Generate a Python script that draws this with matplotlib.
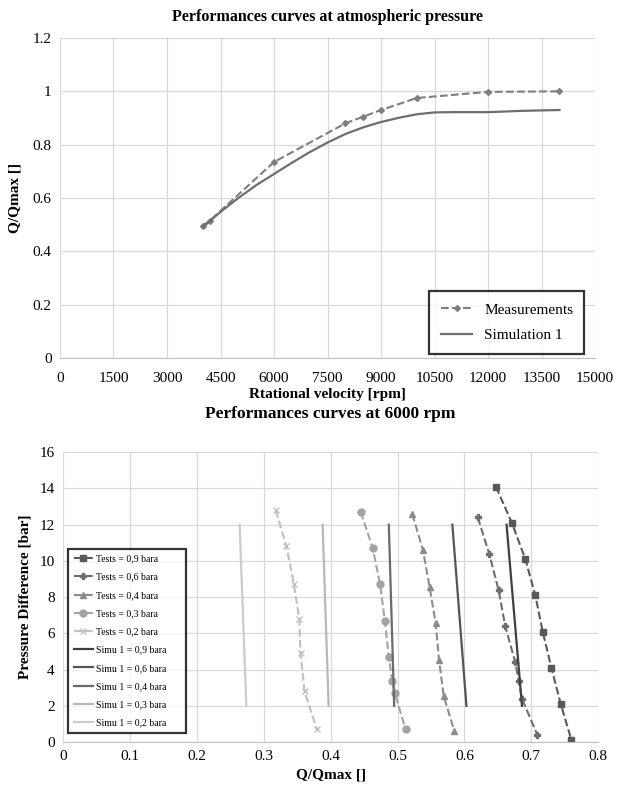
import numpy as np
import matplotlib.pyplot as plt

plt.rcParams["font.family"] = ["Liberation Serif", "DejaVu Serif"]

# ---------------------------
# DATA - top chart
# ---------------------------
rpm_meas = [4000, 4200, 6000, 8000, 8500, 9000, 10000, 12000, 14000]
q_meas = [0.495, 0.515, 0.735, 0.88, 0.905, 0.93, 0.975, 0.998, 1.0]

rpm_sim = [4000, 4500, 5000, 5500, 6000, 6500, 7000, 7500, 8000, 8500, 9000,
           9500, 10000, 10500, 11000, 12000, 13000, 14000]
q_sim = [0.49, 0.548, 0.600, 0.648, 0.690, 0.732, 0.772, 0.808, 0.840, 0.865,
         0.885, 0.901, 0.914, 0.921, 0.922, 0.922, 0.927, 0.93]

# ---------------------------
# DATA - bottom chart
# ---------------------------
t09_q = [0.647, 0.671, 0.691, 0.706, 0.717, 0.730, 0.744, 0.760]
t09_dp = [14.1, 12.1, 10.1, 8.1, 6.1, 4.1, 2.1, 0.1]
t06_q = [0.620, 0.637, 0.651, 0.661, 0.676, 0.681, 0.686, 0.709]
t06_dp = [12.4, 10.4, 8.4, 6.4, 4.4, 3.4, 2.4, 0.4]
t04_q = [0.522, 0.538, 0.548, 0.557, 0.562, 0.569, 0.585]
t04_dp = [12.6, 10.6, 8.55, 6.55, 4.55, 2.55, 0.6]
t03_q = [0.445, 0.463, 0.474, 0.481, 0.487, 0.492, 0.496, 0.512]
t03_dp = [12.7, 10.7, 8.7, 6.7, 4.7, 3.4, 2.7, 0.7]
t02_q = [0.318, 0.334, 0.345, 0.353, 0.355, 0.361, 0.379]
t02_dp = [12.8, 10.8, 8.75, 6.8, 4.9, 2.8, 0.75]

simu_dp = [12, 2]
s09_q = [0.663, 0.686]
s06_q = [0.582, 0.603]
s04_q = [0.487, 0.495]
s03_q = [0.388, 0.397]
s02_q = [0.264, 0.274]

GRID = "#d9d9d9"


def style_axes(ax, xpad=6):
    ax.grid(True, color=GRID, linewidth=0.9)
    ax.set_axisbelow(True)
    for s in ["top", "right", "left"]:
        ax.spines[s].set_visible(False)
    ax.spines["bottom"].set_color("#bfbfbf")
    ax.tick_params(length=0, labelsize=11, pad=6)
    ax.tick_params(axis="x", pad=xpad)


fig = plt.figure(figsize=(6.18, 7.92), dpi=100)

# ================================================================
# TOP: performances at atmospheric pressure
# ================================================================
ax1 = fig.add_axes([0.097, 0.548, 0.866, 0.404])
ax1.plot(rpm_meas, q_meas, color="#7f7f7f", linestyle="--", linewidth=1.5,
         marker="D", markersize=3, label="Measurements")
ax1.plot(rpm_sim, q_sim, color="#6e6e6e", linestyle="-", linewidth=1.6,
         label="Simulation 1")
ax1.set_xlim(0, 15000)
ax1.set_ylim(0, 1.2)
ax1.set_xticks(np.arange(0, 15001, 1500))
ax1.set_yticks([0, 0.2, 0.4, 0.6, 0.8, 1, 1.2])
ax1.set_yticklabels(["0", "0.2", "0.4", "0.6", "0.8", "1", "1.2"])
style_axes(ax1, xpad=10)
ax1.set_title("Performances curves at atmospheric pressure", fontsize=11.5,
              fontweight="bold", pad=12)
ax1.set_xlabel("Rtational velocity [rpm]", fontsize=11, fontweight="bold", labelpad=2)
ax1.set_ylabel("Q/Qmax []", fontsize=11, fontweight="bold", labelpad=8)
leg1 = ax1.legend(loc="lower left", bbox_to_anchor=(0.69, 0.012, 0.29, 0.2),
                  mode="expand", fontsize=11, frameon=True, fancybox=False,
                  handlelength=2.0, labelspacing=0.75, borderpad=0.8,
                  borderaxespad=0)
leg1.get_frame().set_edgecolor("black")
leg1.get_frame().set_linewidth(1.6)

# ================================================================
# BOTTOM: performances at 6000 rpm
# ================================================================
ax2 = fig.add_axes([0.102, 0.063, 0.866, 0.366])
tests = [
    (t09_q, t09_dp, "s", 5, "#595959", "Tests = 0,9 bara"),
    (t06_q, t06_dp, "P", 4, "#6e6e6e", "Tests = 0,6 bara"),
    (t04_q, t04_dp, "^", 4, "#8c8c8c", "Tests = 0,4 bara"),
    (t03_q, t03_dp, "o", 5, "#a3a3a3", "Tests = 0,3 bara"),
    (t02_q, t02_dp, "x", 4, "#c0c0c0", "Tests = 0,2 bara"),
]
for q, dp, mk, ms, col, lab in tests:
    ax2.plot(q, dp, color=col, linestyle="--", linewidth=1.5, marker=mk,
             markersize=ms, label=lab)

simus = [
    (s09_q, "#404040", "Simu 1 = 0,9 bara"),
    (s06_q, "#555555", "Simu 1 = 0,6 bara"),
    (s04_q, "#6a6a6a", "Simu 1 = 0,4 bara"),
    (s03_q, "#b8b8b8", "Simu 1 = 0,3 bara"),
    (s02_q, "#cccccc", "Simu 1 = 0,2 bara"),
]
for q, col, lab in simus:
    ax2.plot(q, simu_dp, color=col, linestyle="-", linewidth=1.6, label=lab)

ax2.set_xlim(0, 0.8)
ax2.set_ylim(0, 16)
ax2.set_xticks([0, 0.1, 0.2, 0.3, 0.4, 0.5, 0.6, 0.7, 0.8])
ax2.set_xticklabels(["0", "0.1", "0.2", "0.3", "0.4", "0.5", "0.6", "0.7", "0.8"])
ax2.set_yticks(np.arange(0, 17, 2))
style_axes(ax2)
ax2.set_title("Performances curves at 6000 rpm", fontsize=12.5,
              fontweight="bold", pad=25)
ax2.set_xlabel("Q/Qmax []", fontsize=11, fontweight="bold", labelpad=4)
ax2.set_ylabel("Pressure Difference [bar]", fontsize=11, fontweight="bold", labelpad=6)
leg2 = ax2.legend(loc="lower left", bbox_to_anchor=(0.009, 0.03, 0.221, 0.64),
                  mode="expand", fontsize=7, frameon=True, fancybox=False,
                  handlelength=2.0, handletextpad=0.3, labelspacing=0.95,
                  borderpad=0.6, borderaxespad=0)
leg2.get_frame().set_edgecolor("black")
leg2.get_frame().set_linewidth(1.6)

fig.savefig("out.png", dpi=100)
